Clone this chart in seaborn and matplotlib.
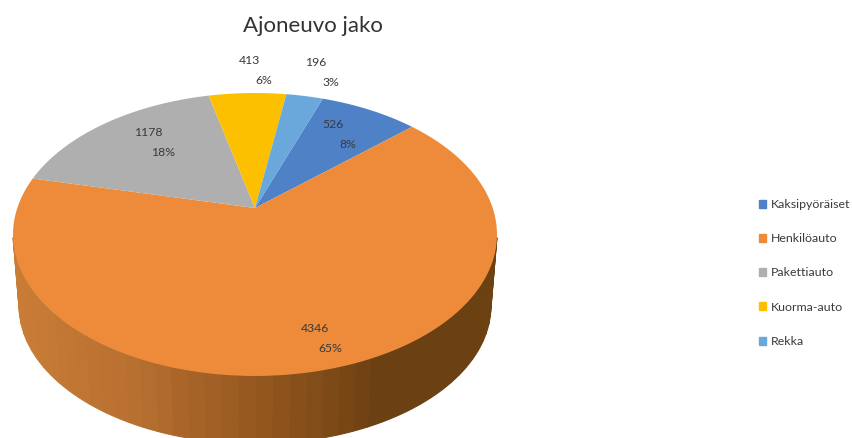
import numpy as np
import seaborn as sns
import matplotlib.pyplot as plt
from matplotlib.patches import Patch

title = "Ajoneuvo jako"
categories = ["Kaksipyöräiset", "Henkilöauto", "Pakettiauto", "Kuorma-auto", "Rekka"]
values = [526, 4346, 1178, 413, 196]
colors = ["#4f81c7", "#ed8b3b", "#afafaf", "#fdc000", "#6aa8dc"]

sns.set_theme(style="white")
plt.rcParams["font.family"] = ["Lato", "DejaVu Sans"]

# pie is a circle put through a perspective squash, all in pixels of the picture
start = 19.6
cx, cy = 255, 208
rx, ry, k = 237.7, 136.5, 0.187
depth, shrink = 72, 0.975

# number label centres, percent goes a bit right and below
label_pos = [(333, 125), (315, 328), (148, 133), (249, 60), (316, 63)]


def project(angle, r=1.0, dy=0, s=1.0):
    a = np.radians(angle)
    u, v = r * np.sin(a), r * np.cos(a)
    d = 1 + k * v
    return cx + s * rx * u / d, cy + dy + s * ry * v * -1 / d


fig = plt.figure(figsize=(8.52, 4.38), dpi=100)
ax = fig.add_axes([0, 0, 1, 1])
ax.set_xlim(0, 852)
ax.set_ylim(438, 0)
ax.axis("off")

# side wall, bands of colour like in the original
# only the part between the widest points of the rim shows
side = sns.blend_palette(["#6e4313", "#6b4012", "#6b4012", "#95581f", "#b87030", "#c57a35", "#ca7d36"], n_colors=46)
edges = np.linspace(102, 258, 47)
for i, c in enumerate(side):
    t = np.linspace(edges[i], edges[i + 1], 4)
    x1, y1 = project(t)
    x2, y2 = project(t[::-1], dy=depth, s=shrink)
    # thin edge in the same colour hides the seams between bands
    ax.fill(np.r_[x1, x2], np.r_[y1, y2], facecolor=c, edgecolor=c, lw=0.8)

# top of the pie
shares = np.array(values) / sum(values)
ends = start + np.cumsum(shares) * 360
begins = np.r_[start, ends[:-1]]
for a, b, c in zip(begins, ends, colors):
    t = np.linspace(a, b, 200)
    x, y = project(t)
    ax.fill(np.r_[cx, x], np.r_[cy, y], color=c, lw=0)

for v, s, (lx, ly) in zip(values, shares, label_pos):
    ax.text(lx, ly, str(v), fontsize=8.8, color="#3a3a3a", ha="center", va="center")
    ax.text(lx + 15, ly + 20, f"{s:.0%}", fontsize=8.8, color="#3a3a3a", ha="center", va="center")

ax.text(313, 26, title, fontsize=16, color="#333333", ha="center", va="center")

handles = [Patch(color=c, label=n) for c, n in zip(colors, categories)]
leg = ax.legend(handles=handles, loc="center left", bbox_to_anchor=(759 / 852, 1 - 273 / 438),
                frameon=False, fontsize=8.9, labelcolor="#3a3a3a", labelspacing=1.88,
                handlelength=0.6, handleheight=0.6, handletextpad=0.4,
                borderpad=0, borderaxespad=0)

fig.savefig("out.png", dpi=100)
